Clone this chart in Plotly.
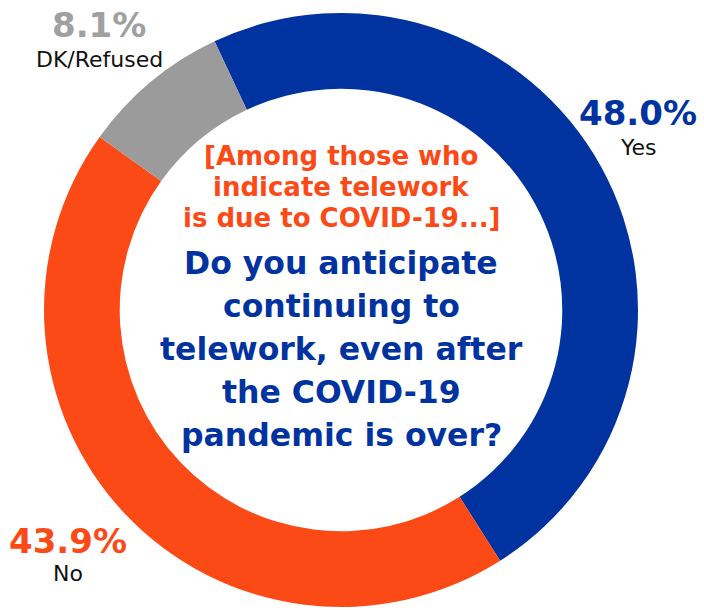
import plotly.graph_objects as go

# Survey responses
categories = ["Yes", "No", "DK/Refused"]
shares = [48.0, 43.9, 8.1]
slice_colors = ["#0033A0", "#FC4A17", "#9B9B9B"]
value_colors = ["#0033A0", "#FC4A17", "#A0A0A0"]

# Question shown inside the hole
qualifier_lines = ["[Among those who", "indicate telework", "is due to COVID-19...]"]
question_lines = ["Do you anticipate", "continuing to", "telework, even after",
                  "the COVID-19", "pandemic is over?"]

W, H = 704, 610
CX, CY, R = 341, 310, 297

fig = go.Figure(go.Pie(
    labels=categories,
    values=shares,
    sort=False,
    direction="clockwise",
    rotation=-25.2,
    hole=0.745,
    marker=dict(colors=slice_colors, line=dict(width=0)),
    textinfo="none",
    hoverinfo="label+percent",
    showlegend=False,
    domain=dict(x=[(CX - R) / W, (CX + R) / W],
                y=[(H - CY - R) / H, (H - CY + R) / H]),
))

FONT = "DejaVu Sans"


def add_text(text, x, baseline, size, color, bold):
    # place a single line by its baseline pixel position
    mid = baseline - 0.36 * size
    label = f"<b>{text}</b>" if bold else text
    fig.add_annotation(
        text=label, x=x / W, y=1 - mid / H, xref="paper", yref="paper",
        xanchor="center", yanchor="middle", showarrow=False,
        font=dict(family=FONT, size=size, color=color),
    )


for i, line in enumerate(qualifier_lines):
    add_text(line, CX, 165 + 31 * i, 26, "#FC4A17", True)

for i, line in enumerate(question_lines):
    add_text(line, CX, 274 + 43 * i, 31.5, "#0033A0", True)

# Outside value labels with category names
label_spots = {
    "Yes": (638, 125, 155),
    "No": (68, 553, 581),
    "DK/Refused": (99, 37, 67),
}
for cat, share, col in zip(categories, shares, value_colors):
    x, b1, b2 = label_spots[cat]
    add_text(f"{share:.1f}%", x, b1, 34, col, True)
    add_text(cat, x, b2, 22, "#111111", False)

fig.update_layout(
    width=W, height=H,
    margin=dict(l=0, r=0, t=0, b=0),
    paper_bgcolor="white",
    plot_bgcolor="white",
)

fig.write_html("out.html")
